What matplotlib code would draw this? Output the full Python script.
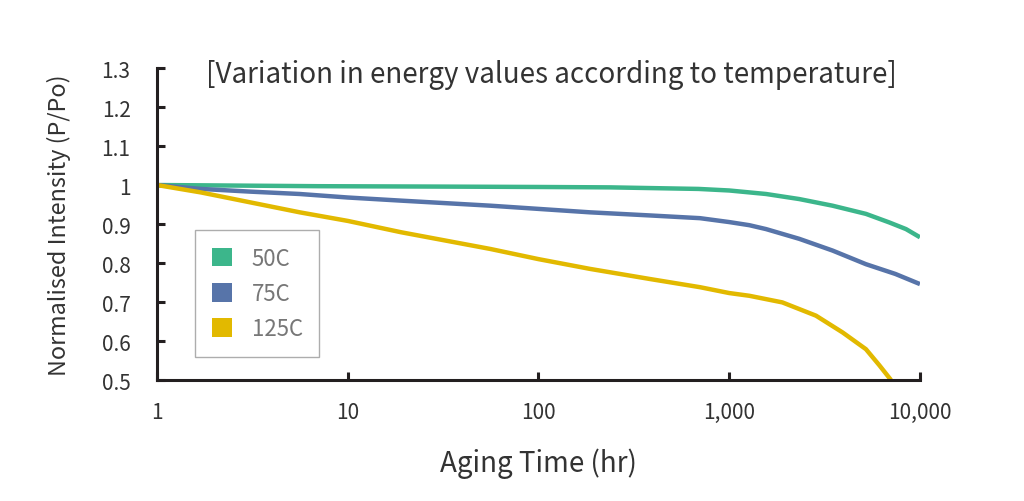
import matplotlib
matplotlib.use("Agg")
import matplotlib.pyplot as plt
from matplotlib.patches import Patch
from matplotlib.ticker import FixedLocator, FixedFormatter

# =========================
# DATA
# =========================
hours_50 = [1, 2, 7, 30, 100, 237, 690, 1000, 1560, 2330, 3480, 5210, 6910, 8450, 10000]
val_50 = [1.0, 0.999, 0.997, 0.996, 0.995, 0.994, 0.99, 0.986, 0.977, 0.964, 0.947, 0.926, 0.904, 0.887, 0.866]

hours_75 = [1, 1.7, 3.1, 5.6, 10, 19, 56, 186, 384, 703, 1000, 1275, 1560, 2330, 3480, 5210, 7430, 10000]
val_75 = [1.0, 0.99, 0.983, 0.977, 0.968, 0.96, 0.947, 0.93, 0.922, 0.915, 0.905, 0.897, 0.887, 0.862, 0.832, 0.797, 0.772, 0.746]

hours_125 = [1, 1.7, 5.6, 10, 19, 56, 100, 186, 384, 703, 1000, 1275, 1900, 2850, 3930, 5210, 6120, 7050]
val_125 = [1.0, 0.981, 0.93, 0.908, 0.879, 0.836, 0.81, 0.785, 0.759, 0.738, 0.723, 0.716, 0.699, 0.665, 0.622, 0.579, 0.538, 0.5]

series = [
    ("50C", hours_50, val_50, "#3cb68b"),
    ("75C", hours_75, val_75, "#5774a9"),
    ("125C", hours_125, val_125, "#e2b900"),
]

x_ticks = [1, 10, 100, 1000, 10000]
x_labels = ["1", "10", "100", "1,000", "10,000"]
y_ticks = [0.5, 0.6, 0.7, 0.8, 0.9, 1.0, 1.1, 1.2, 1.3]
y_labels = ["0.5", "0.6", "0.7", "0.8", "0.9", "1", "1.1", "1.2", "1.3"]

TITLE = "[Variation in energy values according to temperature]"


def main():
    plt.rcParams["font.family"] = ["Noto Sans CJK KR", "DejaVu Sans"]

    fig = plt.figure(figsize=(10.24, 5.02), dpi=100)
    ax = fig.add_axes([0.1533, 0.241, 0.7451, 0.6215])

    for name, xs, ys, color in series:
        ax.plot(xs, ys, color=color, lw=3.2, solid_capstyle="butt",
                solid_joinstyle="round")

    ax.set_xscale("log")
    ax.set_xlim(1, 10000)
    ax.set_ylim(0.5, 1.3)

    ax.xaxis.set_major_locator(FixedLocator(x_ticks))
    ax.xaxis.set_major_formatter(FixedFormatter(x_labels))
    ax.xaxis.set_minor_locator(FixedLocator([]))
    ax.yaxis.set_major_locator(FixedLocator(y_ticks))
    ax.yaxis.set_major_formatter(FixedFormatter(y_labels))

    for side in ["top", "right"]:
        ax.spines[side].set_visible(False)
    for side in ["left", "bottom"]:
        ax.spines[side].set_linewidth(2.2)
        ax.spines[side].set_color("#231f20")

    ax.tick_params(axis="both", direction="in", length=6, width=2.2,
                   color="#231f20", labelsize=15, labelcolor="#333333")
    ax.tick_params(axis="y", pad=19)
    ax.tick_params(axis="x", pad=15)

    ax.set_xlabel("Aging Time (hr)", fontsize=20, color="#333333", labelpad=18)
    ax.set_ylabel("Normalised Intensity (P/Po)", fontsize=16.8, color="#333333", labelpad=22)

    ax.text(0.517, 0.981, TITLE, transform=ax.transAxes, ha="center", va="center",
            fontsize=20, color="#333333")

    handles = [Patch(facecolor=c, edgecolor="none", label=n) for n, _, _, c in series]
    leg = ax.legend(handles=handles, loc="lower left", bbox_to_anchor=(0.0498, 0.0737),
                    borderaxespad=0, fontsize=16, frameon=True, fancybox=False,
                    borderpad=0.75, handlelength=0.9, handleheight=0.9,
                    handletextpad=0.9, labelspacing=0.55)
    leg.get_frame().set_edgecolor("#999999")
    leg.get_frame().set_linewidth(1.0)
    for t in leg.get_texts():
        t.set_color("#777777")

    fig.savefig("out.png", dpi=100)


if __name__ == "__main__":
    main()
